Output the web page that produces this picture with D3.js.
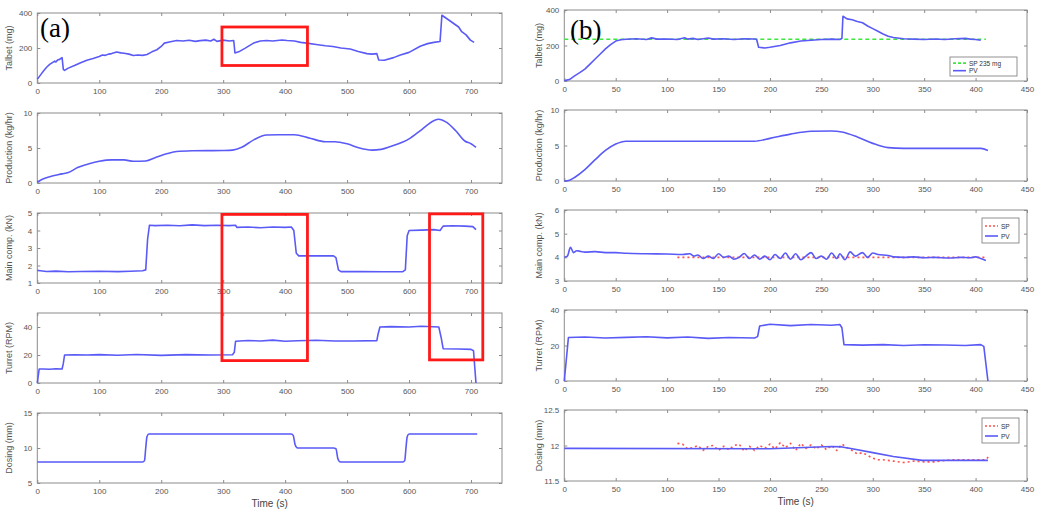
<!DOCTYPE html>
<html><head><meta charset="utf-8">
<script src="https://cdn.jsdelivr.net/npm/d3@7"></script>
<style>body{margin:0;background:#fff}svg{display:block}text{font-family:"Liberation Sans",Arial,sans-serif}</style>
</head><body><svg id="c" width="1050" height="520"></svg>
<script>
// ---------- data (a) ----------
const talbetA = [[0,22],[5,45],[10,69],[15,90],[20,106],[25,118],[28,125],[30,120],[33,132],[36,135],[38,140],[40,145],[42,78],[44,72],[50,85],[60,100],[70,116],[80,130],[90,140],[95,146],[100,152],[105,160],[110,158],[115,165],[120,168],[128,177],[135,172],[140,170],[148,165],[155,157],[162,160],[170,158],[177,163],[185,178],[193,190],[200,209],[205,228],[215,236],[225,243],[235,240],[245,244],[255,238],[263,242],[272,245],[280,240],[285,250],[290,238],[300,245],[310,240],[317,243],[319,172],[325,178],[335,198],[349,228],[360,240],[370,243],[380,240],[395,246],[403,243],[415,240],[425,232],[435,228],[450,220],[465,213],[477,209],[490,200],[505,194],[518,180],[532,168],[540,165],[548,168],[551,131],[560,130],[575,145],[586,160],[600,175],[618,210],[630,225],[640,232],[650,237],[653,387],[660,370],[672,340],[680,320],[685,293],[692,275],[699,245],[705,232]];
const productionA = [[0,0.1],[10,0.6],[20,0.9],[40,1.3],[50,1.5],[65,2.2],[85,2.8],[100,3.1],[120,3.3],[140,3.3],[155,3.1],[175,3.15],[190,3.6],[210,4.2],[225,4.5],[250,4.6],[300,4.65],[315,4.7],[330,5.1],[350,6.2],[370,6.85],[390,6.9],[415,6.9],[440,6.4],[465,5.9],[480,5.9],[500,5.6],[520,5.0],[540,4.7],[555,4.8],[570,5.2],[600,6.3],[620,7.6],[640,8.9],[648,9.1],[660,8.7],[675,7.5],[690,6.0],[700,5.6],[708,5.1]];
const mainCompA = [[0,1.72],[5,1.7],[15,1.66],[30,1.68],[50,1.64],[70,1.66],[100,1.67],[130,1.65],[150,1.67],[170,1.7],[175,1.75],[178,3.5],[181,4.3],[190,4.28],[210,4.3],[230,4.27],[250,4.32],[270,4.28],[290,4.3],[310,4.28],[320,4.3],[322,4.18],[340,4.2],[360,4.16],[380,4.2],[400,4.18],[410,4.2],[414,4.0],[418,2.7],[422,2.55],[450,2.55],[478,2.55],[482,2.45],[486,1.75],[490,1.65],[520,1.66],[560,1.64],[590,1.65],[594,1.75],[597,3.7],[600,4.0],[620,4.02],[640,4.05],[650,4.0],[655,4.25],[670,4.27],[690,4.25],[703,4.22],[708,4.05]];
const turretA = [[0,0],[3,10],[10,10],[20,9.8],[30,10.2],[40,10],[42,14],[44,20],[60,20.2],[80,20],[100,20.3],[130,19.8],[160,20.4],[200,19.7],[240,20.3],[280,20],[315,20.2],[318,22],[320,29.8],[340,30.4],[360,30],[380,30.6],[400,29.8],[420,30.2],[450,30.5],[480,30],[510,30],[548,30.3],[550,35],[553,40],[570,40.3],[600,40],[620,40.5],[648,40],[652,32],[655,24.5],[680,24.3],[700,24],[704,23],[708,0]];
const dosingA = [[0,8],[170,8],[173,8.2],[175,10],[177,11.6],[180,12],[410,12],[413,11.8],[416,10.5],[419,10.05],[422,10],[478,10],[482,9.9],[485,8.5],[488,8.05],[492,8],[590,8],[593,8.2],[595,10],[597,11.6],[600,12],[710,12]];
// ---------- data (b) ----------
const talbetB = [[0,2],[5,8],[10,29],[15,47],[20,67],[25,95],[30,124],[35,152],[40,181],[45,205],[50,225],[55,232],[60,235],[70,238],[80,234],[85,243],[90,236],[100,237],[110,234],[117,244],[120,236],[125,240],[130,234],[140,242],[145,236],[155,238],[165,234],[175,238],[185,237],[187,235],[189,190],[195,186],[200,190],[210,200],[220,215],[230,225],[240,230],[250,234],[260,236],[268,234],[270,240],[271,365],[275,350],[280,345],[285,335],[290,328],[295,310],[300,295],[305,280],[310,265],[315,252],[320,245],[330,238],[340,236],[350,234],[360,237],[370,234],[380,238],[390,240],[395,236],[400,234],[405,230]];
const talbetSP = [[0,235],[410,235]];
const productionB = [[0,0],[5,0.1],[10,0.5],[20,1.6],[30,3.0],[40,4.3],[50,5.2],[60,5.6],[120,5.6],[185,5.6],[200,6.0],[220,6.6],[240,7.0],[260,7.05],[270,6.9],[285,6.2],[300,5.3],[315,4.7],[330,4.6],[405,4.6],[412,4.3]];
const mainCompB = [[0,4.0],[3,4.05],[6,4.42],[9,4.2],[12,4.28],[16,4.25],[20,4.22],[30,4.24],[40,4.2],[50,4.2],[60,4.17],[80,4.15],[100,4.14],[115,4.12],[122,4.15],[126,4.05],[130,4.1],[135,3.95],[140,4.05],[145,3.95],[150,4.15],[155,4.0],[160,4.05],[165,3.92],[170,4.0],[175,4.16],[180,3.95],[185,4.1],[190,3.92],[195,4.05],[200,3.9],[205,4.12],[210,3.95],[215,4.18],[220,3.92],[225,4.15],[230,3.9],[235,4.05],[240,4.2],[245,3.95],[250,4.05],[255,3.92],[260,4.18],[265,3.95],[268,4.15],[273,3.9],[278,4.23],[283,4.05],[290,4.2],[295,4.0],[300,4.18],[305,4.12],[315,4.08],[320,4.02],[330,4.0],[340,4.02],[350,3.98],[360,4.0],[375,3.97],[385,4.0],[395,3.98],[400,4.02],[405,3.95],[410,3.87]];
const mainCompSP = [[110,4.0],[410,4.0]];
const turretB = [[0,0],[4,24.5],[20,24.8],[40,24.2],[60,24.6],[80,24.9],[100,24.3],[120,24.8],[140,24],[160,24.5],[185,24.2],[188,25],[190,31],[200,32],[220,31.2],[240,31.8],[260,31.4],[268,31.8],[270,30],[272,20.5],[290,20.2],[310,20.5],[330,20],[350,20.4],[370,20.3],[390,20],[405,20.5],[408,19.5],[412,0]];
const dosingB = [[0,11.96],[200,11.955],[220,11.965],[240,11.975],[260,11.985],[270,11.98],[280,11.955],[300,11.9],[320,11.845],[348,11.79],[412,11.79]];
const dosingSP = [[110,12.03],[115,12.02],[120,11.95],[125,11.97],[130,12.0],[135,11.93],[140,11.99],[145,12.0],[150,11.93],[155,11.99],[160,11.94],[165,12.0],[170,12.02],[175,11.92],[180,11.99],[185,11.93],[190,12.0],[195,11.96],[200,12.02],[205,11.95],[210,12.04],[215,11.97],[220,12.03],[225,11.93],[230,12.03],[235,11.96],[240,12.01],[245,11.95],[250,12.01],[255,11.94],[260,12.0],[265,11.93],[270,12.02],[275,11.97],[280,11.93],[285,11.88],[290,11.9],[295,11.86],[300,11.82],[305,11.8],[310,11.8],[320,11.78],[330,11.76],[340,11.78],[350,11.77],[360,11.77],[370,11.79],[380,11.8],[390,11.8],[400,11.8],[410,11.8],[413,11.85]];
// ---------- axes ----------
const yLabels = ["Talbet (mg)","Production (kg/hr)","Main comp. (kN)","Turret (RPM)","Dosing (mm)"];
const xTicksA = [0,100,200,300,400,500,600,700];
const xTicksB = [0,50,100,150,200,250,300,350,400,450];
const yDomA = [[0,400],[0,10],[1,5],[0,50],[5,15]];
const yTicksA = [[0,200,400],[0,5,10],[1,2,3,4,5],[0,20,40],[5,10,15]];
const yDomB = [[0,400],[0,10],[3,6],[0,40],[11.5,12.5]];
const yTicksB = [[0,200,400],[0,5,10],[3,4,5,6],[0,20,40],[11.5,12,12.5]];
const legendTalbet = ["SP 235 mg","PV"];
const legendSPPV = ["SP","PV"];

const svg = d3.select("#c");
const BLUE = "#5a5af6", AX = "#8c8c8c", TXT = "#555";

function panel(x0, x1, top, h, xDom, xTicks, yDom, yTicks, ylab, xlab, lx) {
  const x = d3.scaleLinear().domain(xDom).range([x0, x1]);
  const y = d3.scaleLinear().domain(yDom).range([top + h, top]);
  const g = svg.append("g");
  g.append("rect").attr("x", x0).attr("y", top).attr("width", x1 - x0).attr("height", h)
    .attr("fill", "#fff").attr("stroke", AX).attr("stroke-width", 1);
  const style = s => { s.select(".domain").remove(); s.selectAll("line").attr("stroke", AX);
    s.selectAll("text").attr("fill", TXT).style("font-size", "8px"); };
  g.append("g").attr("transform", `translate(0,${top + h})`)
    .call(d3.axisBottom(x).tickValues(xTicks).tickSize(-3).tickPadding(5)).call(style);
  g.append("g").attr("transform", `translate(0,${top})`)
    .call(d3.axisTop(x).tickValues(xTicks).tickSize(-3).tickFormat("")).call(style);
  g.append("g").attr("transform", `translate(${x0},0)`)
    .call(d3.axisLeft(y).tickValues(yTicks).tickSize(-3).tickPadding(5).tickFormat(d3.format("~g"))).call(style);
  g.append("g").attr("transform", `translate(${x1},0)`)
    .call(d3.axisRight(y).tickValues(yTicks).tickSize(-3).tickFormat("")).call(style);
  g.append("text").attr("transform", `translate(${lx},${top + h / 2}) rotate(-90)`)
    .attr("text-anchor", "middle").attr("fill", TXT).style("font-size", "9px").text(ylab);
  if (xlab) g.append("text").attr("x", (x0 + x1) / 2).attr("y", top + h + 24)
    .attr("text-anchor", "middle").attr("fill", "#444").style("font-size", "10px").text(xlab);
  return {x, y, g};
}
function line(p, data, color, w, dash, curve) {
  const l = d3.line().x(d => p.x(d[0])).y(d => p.y(d[1])).curve(curve || d3.curveLinear);
  const path = p.g.append("path").datum(data).attr("d", l).attr("fill", "none")
    .attr("stroke", color).attr("stroke-width", w).attr("stroke-linejoin", "round");
  if (dash) path.attr("stroke-dasharray", dash);
  return path;
}
function legend(p, bx, by, bw, bh, items, spColor, spDash) {
  const g = p.g.append("g");
  g.append("rect").attr("x", bx).attr("y", by).attr("width", bw).attr("height", bh)
    .attr("fill", "#fff").attr("stroke", "#777").attr("stroke-width", 0.8);
  const ys = [by + bh * 0.32, by + bh * 0.72];
  g.append("line").attr("x1", bx + 3).attr("x2", bx + 16).attr("y1", ys[0]).attr("y2", ys[0])
    .attr("stroke", spColor).attr("stroke-width", 1.6).attr("stroke-dasharray", spDash);
  g.append("line").attr("x1", bx + 3).attr("x2", bx + 16).attr("y1", ys[1]).attr("y2", ys[1])
    .attr("stroke", BLUE).attr("stroke-width", 1.6);
  items.forEach((t, i) => g.append("text").attr("x", bx + 19).attr("y", ys[i] + 2.5)
    .attr("fill", "#333").style("font-size", "6.5px").text(t));
}

// ---- column (a)
const AX0 = 37.3, AX1 = 502, topsA = [13, 113, 213, 313, 413];
const seriesA = [talbetA, productionA, mainCompA, turretA, dosingA];
const pa = seriesA.map((s, i) => {
  const p = panel(AX0, AX1, topsA[i], 70, [0, 750], xTicksA, yDomA[i], yTicksA[i], yLabels[i], i === 4 ? "Time (s)" : null, 12);
  line(p, s, BLUE, 1.6, null, (i === 1 || i === 4) ? d3.curveMonotoneX : d3.curveLinear);
  return p;
});
// ---- column (b)
const BX0 = 564.3, BX1 = 1027, topsB = [10, 110, 210, 310, 410];
const seriesB = [talbetB, productionB, mainCompB, turretB, dosingB];
const pb = seriesB.map((s, i) =>
  panel(BX0, BX1, topsB[i], 71, [0, 450], xTicksB, yDomB[i], yTicksB[i], yLabels[i], i === 4 ? "Time (s)" : null, 542));
line(pb[0], talbetSP, "#3de83d", 1.6, "4,3");
line(pb[0], talbetB, BLUE, 1.6);
line(pb[1], productionB, BLUE, 1.6, null, d3.curveMonotoneX);
line(pb[2], mainCompSP, "#ff5050", 1.6, "2,3");
line(pb[2], mainCompB, BLUE, 1.6, null, d3.curveMonotoneX);
line(pb[3], turretB, BLUE, 1.6);
line(pb[4], dosingSP, "#ff5050", 1.6, "2,3");
line(pb[4], dosingB, BLUE, 1.6);
legend(pb[0], 950, 57, 67, 19, legendTalbet, "#3de83d", "3,2");
legend(pb[2], 982, 218, 37, 25, legendSPPV, "#ff5050", "2,2");
legend(pb[4], 982, 418, 37, 25, legendSPPV, "#ff5050", "2,2");

// ---- red highlight boxes (data coords)
const RED = "#ff1a1a";
const box = (p, xa, xb, ya, yb) => svg.append("rect")
  .attr("x", p.x(xa)).attr("y", ya).attr("width", p.x(xb) - p.x(xa)).attr("height", yb - ya)
  .attr("fill", "none").attr("stroke", RED).attr("stroke-width", 2.8);
box(pa[0], 298, 436, pa[0].y(320), pa[0].y(100));
box(pa[2], 298, 436, pa[2].y(4.92), pa[3].y(16));
box(pa[2], 633, 719, pa[2].y(4.95), pa[3].y(16.5));

// ---- panel letters
svg.append("text").attr("x", 40).attr("y", 37).style("font-family", "'Liberation Serif','Times New Roman',serif")
  .style("font-size", "27px").attr("fill", "#000").text("(a)");
svg.append("text").attr("x", 570).attr("y", 39).style("font-family", "'Liberation Serif','Times New Roman',serif")
  .style("font-size", "27px").attr("fill", "#000").text("(b)");
</script></body></html>
